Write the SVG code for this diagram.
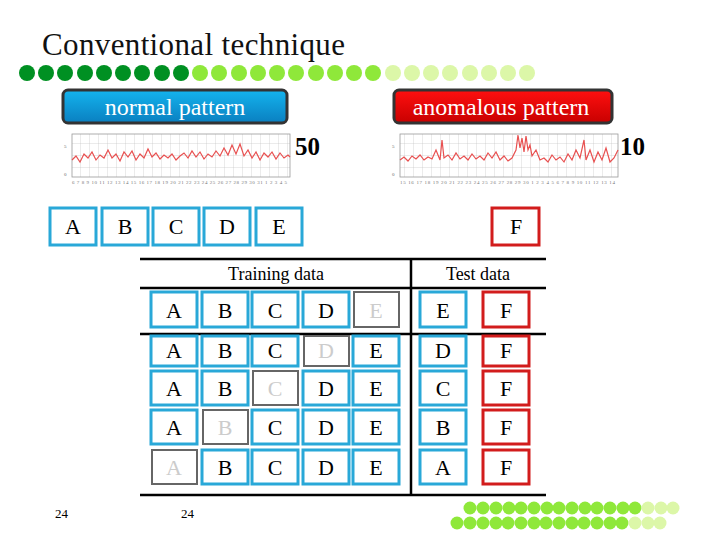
<svg xmlns="http://www.w3.org/2000/svg" width="720" height="540" viewBox="0 0 720 540" font-family="'Liberation Serif', 'Times New Roman', 'DejaVu Serif', serif">
<defs>
<linearGradient id="gb" x1="0" y1="0" x2="0" y2="1"><stop offset="0" stop-color="#14b4ee"/><stop offset="1" stop-color="#0a7fc0"/></linearGradient>
<linearGradient id="gr" x1="0" y1="0" x2="0" y2="1"><stop offset="0" stop-color="#ff1010"/><stop offset="1" stop-color="#c80000"/></linearGradient>
<pattern id="grid" width="9" height="12" patternUnits="userSpaceOnUse"><path d="M9 0V12M0 12H9" stroke="#bbb" stroke-width="0.6" fill="none"/></pattern>
</defs>
<style>
.c{font-size:22px;text-anchor:middle}
.b{fill:#fff;stroke:#29a8d8;stroke-width:3}
.r{fill:#fff;stroke:#d21c1c;stroke-width:3}
.g{fill:#fff;stroke:#666;stroke-width:2}
.gt{fill:#ccc}
.ln{stroke:#000;stroke-width:2.5}
.d1{fill:#009022}.d2{fill:#8fe83a}.d3{fill:#dcf7a8}
</style>
<text x="42" y="55" font-size="31" fill="#111" textLength="303">Conventional technique</text>
<g id="dots">
<g class="d1"><circle cx="27" cy="73" r="8"/><circle cx="46" cy="73" r="8"/><circle cx="65" cy="73" r="8"/><circle cx="85" cy="73" r="8"/><circle cx="104" cy="73" r="8"/><circle cx="123" cy="73" r="8"/><circle cx="142" cy="73" r="8"/><circle cx="162" cy="73" r="8"/><circle cx="181" cy="73" r="8"/></g>
<g class="d2"><circle cx="200" cy="73" r="8"/><circle cx="219" cy="73" r="8"/><circle cx="239" cy="73" r="8"/><circle cx="258" cy="73" r="8"/><circle cx="277" cy="73" r="8"/><circle cx="296" cy="73" r="8"/><circle cx="316" cy="73" r="8"/><circle cx="335" cy="73" r="8"/><circle cx="354" cy="73" r="8"/><circle cx="373" cy="73" r="8"/></g>
<g class="d3"><circle cx="393" cy="73" r="8"/><circle cx="412" cy="73" r="8"/><circle cx="431" cy="73" r="8"/><circle cx="450" cy="73" r="8"/><circle cx="470" cy="73" r="8"/><circle cx="489" cy="73" r="8"/><circle cx="508" cy="73" r="8"/><circle cx="527" cy="73" r="8"/></g>
</g>
<g id="btn-normal"><rect x="63" y="90" width="224" height="33" rx="5" fill="url(#gb)" stroke="#333" stroke-width="3"/><text x="175" y="115" font-size="24" fill="#fff" text-anchor="middle">normal pattern</text></g>
<g id="btn-anom"><rect x="394" y="90" width="218" height="33" rx="5" fill="url(#gr)" stroke="#333" stroke-width="3"/><text x="501" y="115" font-size="24" fill="#fff" text-anchor="middle">anomalous pattern</text></g>
<g id="chart-normal">
<rect x="72" y="134" width="218" height="43" fill="url(#grid)" stroke="#999" stroke-width="0.8"/>
<polyline fill="none" stroke="#e85050" stroke-width="1.2" points="72,160 76,156 80,162 84,154 88,158 92,152 96,160 100,155 104,158 108,150 112,158 116,154 120,161 124,152 128,157 132,151 136,160 140,154 144,158 148,149 152,157 156,153 160,159 164,155 168,158 172,154 176,160 180,156 184,153 188,158 192,151 196,157 200,152 204,159 208,154 212,157 216,151 220,156 224,148 228,155 232,145 236,154 240,144 244,156 248,150 252,158 256,152 260,160 264,153 268,157 272,152 276,159 280,153 284,158 288,155 290,157"/>
<text x="64" y="148" font-size="5" fill="#666">5</text><text x="64" y="176" font-size="5" fill="#666">0</text>
<text x="72" y="184" font-size="5" fill="#777" textLength="215">6 7 8 9 10 11 12 13 14 15 16 17 18 19 20 21 22 23 24 25 26 27 28 29 30 31 1 2 3 4 5</text>
</g>
<g id="chart-anom">
<rect x="400" y="134" width="218" height="43" fill="url(#grid)" stroke="#999" stroke-width="0.8"/>
<polyline fill="none" stroke="#e85050" stroke-width="1.2" points="400,160 404,157 408,161 412,156 416,159 420,155 424,160 428,157 432,159 436,150 440,160 442,140 444,158 448,155 452,160 456,153 460,159 464,156 468,160 472,154 476,159 480,156 484,160 488,153 492,158 496,152 500,160 504,156 508,161 512,158 516,150 518,135 520,148 522,138 524,152 526,136 528,150 530,145 532,156 536,150 540,160 544,158 548,162 552,155 556,160 560,157 564,162 568,154 572,160 576,150 580,158 584,140 586,160 590,150 594,162 598,152 602,160 606,148 610,162 614,158 618,150"/>
<text x="392" y="148" font-size="5" fill="#666">5</text><text x="392" y="176" font-size="5" fill="#666">0</text>
<text x="400" y="184" font-size="5" fill="#777" textLength="215">15 16 17 18 19 20 21 22 23 24 25 26 27 28 29 30 1 2 3 4 5 6 7 8 9 10 11 12 13 14</text>
</g>
<text x="295" y="155" font-size="25" font-weight="bold">50</text>
<text x="620" y="155" font-size="25" font-weight="bold">10</text>
<g id="top-boxes">
<g id="tA"><rect class="b" x="50" y="208" width="46" height="37"/><text class="c" x="73" y="234">A</text></g>
<g id="tB"><rect class="b" x="102" y="208" width="46" height="37"/><text class="c" x="125" y="234">B</text></g>
<g id="tC"><rect class="b" x="153" y="208" width="46" height="37"/><text class="c" x="176" y="234">C</text></g>
<g id="tD"><rect class="b" x="204" y="208" width="46" height="37"/><text class="c" x="227" y="234">D</text></g>
<g id="tE"><rect class="b" x="256" y="208" width="46" height="37"/><text class="c" x="279" y="234">E</text></g>
<g id="tF"><rect class="r" x="492" y="208" width="47" height="37"/><text class="c" x="516" y="234">F</text></g>
</g>
<g id="table-lines">
<line class="ln" x1="140" y1="259" x2="546" y2="259"/>
<line class="ln" x1="140" y1="288" x2="546" y2="288"/>
<line class="ln" x1="140" y1="334" x2="546" y2="334"/>
<line class="ln" x1="140" y1="495" x2="546" y2="495"/>
<line class="ln" x1="411" y1="259" x2="411" y2="495"/>
</g>
<text x="276" y="280" font-size="18" text-anchor="middle">Training data</text>
<text x="478" y="280" font-size="18" text-anchor="middle">Test data</text>
<g id="rows">
<g id="r1">
<rect class="b" x="151" y="292" width="46" height="35"/><text class="c" x="174" y="318">A</text>
<rect class="b" x="202" y="292" width="46" height="35"/><text class="c" x="225" y="318">B</text>
<rect class="b" x="252" y="292" width="46" height="35"/><text class="c" x="275" y="318">C</text>
<rect class="b" x="303" y="292" width="46" height="35"/><text class="c" x="326" y="318">D</text>
<rect class="g" x="354" y="292" width="45" height="35"/><text class="c gt" x="376" y="318">E</text>
<rect class="b" x="420" y="292" width="46" height="35"/><text class="c" x="443" y="318">E</text>
<rect class="r" x="483" y="292" width="46" height="35"/><text class="c" x="506" y="318">F</text>
</g>
<g id="r2">
<rect class="b" x="151" y="336" width="46" height="30"/><text class="c" x="174" y="358">A</text>
<rect class="b" x="202" y="336" width="46" height="30"/><text class="c" x="225" y="358">B</text>
<rect class="b" x="252" y="336" width="46" height="30"/><text class="c" x="275" y="358">C</text>
<rect class="g" x="304" y="336" width="45" height="30"/><text class="c gt" x="326" y="358">D</text>
<rect class="b" x="353" y="336" width="46" height="30"/><text class="c" x="376" y="358">E</text>
<rect class="b" x="420" y="336" width="46" height="30"/><text class="c" x="443" y="358">D</text>
<rect class="r" x="483" y="336" width="46" height="30"/><text class="c" x="506" y="358">F</text>
</g>
<g id="r3">
<rect class="b" x="151" y="371" width="46" height="34"/><text class="c" x="174" y="396">A</text>
<rect class="b" x="202" y="371" width="46" height="34"/><text class="c" x="225" y="396">B</text>
<rect class="g" x="253" y="371" width="45" height="34"/><text class="c gt" x="275" y="396">C</text>
<rect class="b" x="303" y="371" width="46" height="34"/><text class="c" x="326" y="396">D</text>
<rect class="b" x="353" y="371" width="46" height="34"/><text class="c" x="376" y="396">E</text>
<rect class="b" x="420" y="371" width="46" height="34"/><text class="c" x="443" y="396">C</text>
<rect class="r" x="483" y="371" width="46" height="34"/><text class="c" x="506" y="396">F</text>
</g>
<g id="r4">
<rect class="b" x="151" y="410" width="46" height="34"/><text class="c" x="174" y="435">A</text>
<rect class="g" x="203" y="410" width="45" height="34"/><text class="c gt" x="225" y="435">B</text>
<rect class="b" x="252" y="410" width="46" height="34"/><text class="c" x="275" y="435">C</text>
<rect class="b" x="303" y="410" width="46" height="34"/><text class="c" x="326" y="435">D</text>
<rect class="b" x="353" y="410" width="46" height="34"/><text class="c" x="376" y="435">E</text>
<rect class="b" x="420" y="410" width="46" height="34"/><text class="c" x="443" y="435">B</text>
<rect class="r" x="483" y="410" width="46" height="34"/><text class="c" x="506" y="435">F</text>
</g>
<g id="r5">
<rect class="g" x="152" y="450" width="45" height="34"/><text class="c gt" x="174" y="475">A</text>
<rect class="b" x="202" y="450" width="46" height="34"/><text class="c" x="225" y="475">B</text>
<rect class="b" x="252" y="450" width="46" height="34"/><text class="c" x="275" y="475">C</text>
<rect class="b" x="303" y="450" width="46" height="34"/><text class="c" x="326" y="475">D</text>
<rect class="b" x="353" y="450" width="46" height="34"/><text class="c" x="376" y="475">E</text>
<rect class="b" x="420" y="450" width="46" height="34"/><text class="c" x="443" y="475">A</text>
<rect class="r" x="483" y="450" width="46" height="34"/><text class="c" x="506" y="475">F</text>
</g>
</g>
<text x="55" y="518" font-size="13">24</text>
<text x="181" y="518" font-size="13">24</text>
<g id="footer-dots">
<g class="d2"><circle cx="470" cy="508" r="6.5"/><circle cx="483" cy="508" r="6.5"/><circle cx="496" cy="508" r="6.5"/><circle cx="509" cy="508" r="6.5"/><circle cx="521" cy="508" r="6.5"/><circle cx="534" cy="508" r="6.5"/><circle cx="547" cy="508" r="6.5"/><circle cx="559" cy="508" r="6.5"/><circle cx="572" cy="508" r="6.5"/><circle cx="585" cy="508" r="6.5"/><circle cx="597" cy="508" r="6.5"/><circle cx="610" cy="508" r="6.5"/><circle cx="623" cy="508" r="6.5"/><circle cx="635" cy="508" r="6.5"/>
<circle cx="457" cy="523" r="6.5"/><circle cx="470" cy="523" r="6.5"/><circle cx="483" cy="523" r="6.5"/><circle cx="496" cy="523" r="6.5"/><circle cx="508" cy="523" r="6.5"/><circle cx="521" cy="523" r="6.5"/><circle cx="534" cy="523" r="6.5"/><circle cx="546" cy="523" r="6.5"/><circle cx="559" cy="523" r="6.5"/><circle cx="572" cy="523" r="6.5"/><circle cx="584" cy="523" r="6.5"/><circle cx="597" cy="523" r="6.5"/><circle cx="610" cy="523" r="6.5"/><circle cx="622" cy="523" r="6.5"/></g>
<g class="d3"><circle cx="648" cy="508" r="6.5"/><circle cx="661" cy="508" r="6.5"/><circle cx="673" cy="508" r="6.5"/><circle cx="635" cy="523" r="6.5"/><circle cx="648" cy="523" r="6.5"/><circle cx="660" cy="523" r="6.5"/></g>
</g>
</svg>
